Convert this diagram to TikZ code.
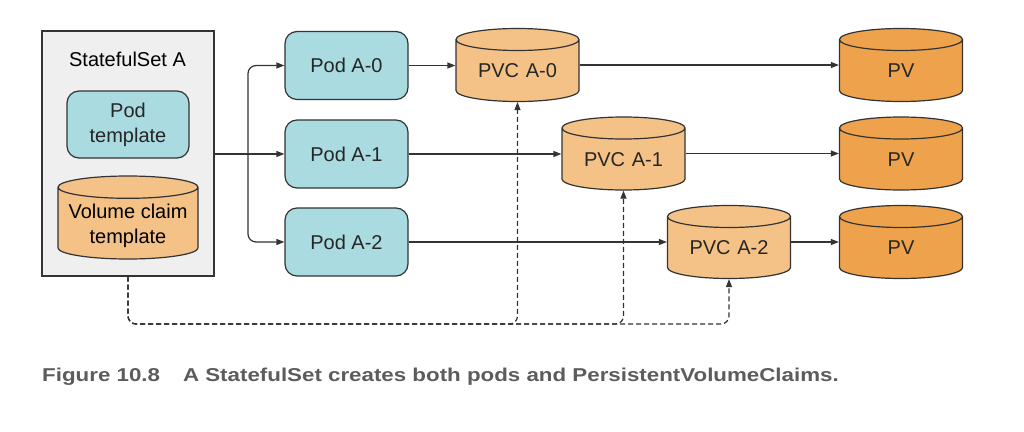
\documentclass[tikz,border=0pt]{standalone}
\usepackage{fontspec}
\setmainfont{Liberation Sans}
\newfontfamily\capfont[FakeStretch=1.2]{Liberation Sans}
\usetikzlibrary{shapes.geometric,arrows.meta}
\definecolor{podfill}{HTML}{AADBE1}
\definecolor{pvcfill}{HTML}{F4C287}
\definecolor{pvfill}{HTML}{EEA24B}
\definecolor{setfill}{HTML}{EFEFEF}
\definecolor{linec}{HTML}{333333}
\definecolor{capc}{HTML}{5C5C5C}
\begin{document}
\begin{tikzpicture}[x=1pt,y=-1pt,
		font=\fontsize{20}{25}\selectfont,
		box/.style={draw=linec,line width=1.2pt,text=black!85},
		podbox/.style={box,fill=podfill,rounded corners=12pt,minimum width=123pt,minimum height=68pt,inner sep=0pt},
		drum/.style={box,cylinder,shape border rotate=90,aspect=0.2,minimum width=123pt,minimum height=73pt,inner sep=0pt,text width=110pt,align=center,anchor=shape center},
		arr/.style={draw=linec,line width=1.2pt,-{Triangle[length=8pt,width=6pt]}},
		dasharr/.style={arr,dash pattern=on 5pt off 3pt,rounded corners=8pt}]
			\useasboundingbox(0,0)rectangle(1024,431);
			\node[box,fill=setfill,minimum width=172pt,minimum height=245pt](sset)at(128,153.5){};
			\node(ssetlabel)at(127.5,59.5){StatefulSet A};
			\node[podbox,minimum width=122pt,minimum height=67pt,align=center](podtpl)at(128,124.5){Pod\\template};
			\node[drum,fill=pvcfill,aspect=0.18,text width=124pt,minimum width=140pt,minimum height=83pt](vctpl)at(128,217.5){};
			\node[align=center](vctext)at(128,226){Volume claim\\template};
			\node[podbox](pod0)at(346.5,65.5){Pod A-0};
			\node[podbox](pod1)at(346.5,154){Pod A-1};
			\node[podbox](pod2)at(346.5,242){Pod A-2};
			\node[drum,fill=pvcfill](pvc0)at(517.5,65){PVC A-0};
			\node[drum,fill=pvcfill](pvc1)at(623.5,153.5){PVC A-1};
			\node[drum,fill=pvcfill](pvc2)at(729,242){PVC A-2};
			\node[drum,fill=pvfill](pv0)at(901,65){PV};
			\node[drum,fill=pvfill](pv1)at(901,153.5){PV};
			\node[drum,fill=pvfill](pv2)at(901,242){PV};
			\coordinate(split)at(248,154);
			\coordinate(bus)at(0,324);
			\draw[arr](sset.east|-pod1.west)--(pod1.west);
			\draw[arr,rounded corners=8pt](split)|-(pod0.west);
			\draw[arr,rounded corners=8pt](split)|-(pod2.west);
			\foreach \i in {0,1,2}{
				\draw[arr](pod\i.east)--(pod\i.east-|pvc\i.west);
				\draw[arr](pvc\i.shape center-|pvc\i.east)--(pvc\i.shape center-|pv\i.west);
				\draw[dasharr](sset.south)|-(pvc\i.south|-bus)--(pvc\i.south);
			}
			\node[anchor=base west,text=capc,inner sep=0pt](caption)at(42,381){\capfont\bfseries\fontsize{18.6}{22}\selectfont Figure 10.8\hspace{23pt}A StatefulSet creates both pods and PersistentVolumeClaims.};
		\end{tikzpicture}
\end{document}
